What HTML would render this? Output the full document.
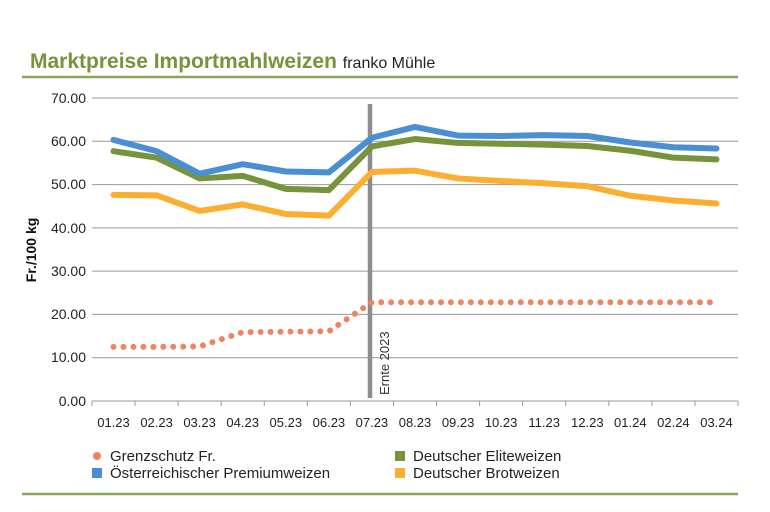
<!DOCTYPE html>
<html><head><meta charset="utf-8"><style>
body{margin:0;background:#fff;}
svg{display:block;font-family:"Liberation Sans",sans-serif;}
</style></head><body>
<svg id="s" width="770" height="512" viewBox="0 0 770 512">
<text x="30" y="68" font-size="21" font-weight="bold" fill="#77933c">Marktpreise Importmahlweizen <tspan font-size="16" font-weight="normal" fill="#222">franko Mühle</tspan></text>
<line x1="22" y1="77" x2="738" y2="77" stroke="#8aa65a" stroke-width="2.5"/>
<line x1="22" y1="494" x2="738" y2="494" stroke="#8aa65a" stroke-width="2.5"/>
<g stroke="#999" stroke-width="1">
<line x1="92" y1="98" x2="738" y2="98"/><line x1="92" y1="141.3" x2="738" y2="141.3"/>
<line x1="92" y1="184.6" x2="738" y2="184.6"/><line x1="92" y1="227.9" x2="738" y2="227.9"/>
<line x1="92" y1="271.1" x2="738" y2="271.1"/><line x1="92" y1="314.4" x2="738" y2="314.4"/>
<line x1="92" y1="357.7" x2="738" y2="357.7"/><line x1="92" y1="401" x2="738" y2="401"/>
</g>
<g id="ticks" stroke="#999"></g>
<g font-size="14" fill="#222" text-anchor="end">
<text x="86" y="103">70.00</text><text x="86" y="146">60.00</text><text x="86" y="189">50.00</text>
<text x="86" y="233">40.00</text><text x="86" y="276">30.00</text><text x="86" y="319">20.00</text>
<text x="86" y="362">10.00</text><text x="86" y="406">0.00</text>
</g>
<text transform="translate(36,250) rotate(-90)" font-size="14" font-weight="bold" text-anchor="middle" fill="#111">Fr./100 kg</text>
<g font-size="13" fill="#222" text-anchor="middle">
<text x="113.5" y="427">01.23</text><text x="156.6" y="427">02.23</text><text x="199.6" y="427">03.23</text>
<text x="242.7" y="427">04.23</text><text x="285.8" y="427">05.23</text><text x="328.9" y="427">06.23</text>
<text x="371.9" y="427">07.23</text><text x="415" y="427">08.23</text><text x="458.1" y="427">09.23</text>
<text x="501.1" y="427">10.23</text><text x="544.2" y="427">11.23</text><text x="587.3" y="427">12.23</text>
<text x="630.3" y="427">01.24</text><text x="673.4" y="427">02.24</text><text x="716.5" y="427">03.24</text>
</g>
<line x1="370" y1="104" x2="370" y2="398" stroke="#8c8c8c" stroke-width="4.5"/>
<text transform="translate(389,395) rotate(-90)" font-size="13" fill="#333">Ernte 2023</text>
<g id="series"></g>
<g font-size="15" fill="#222">
<circle cx="97" cy="456" r="4" fill="#f08462"/><text x="110" y="461">Grenzschutz Fr.</text>
<rect x="92" y="468" width="10" height="10" fill="#4a8fd3"/><text x="110" y="478">Österreichischer Premiumweizen</text>
<rect x="395" y="451" width="10" height="10" fill="#77933c"/><text x="413" y="461">Deutscher Eliteweizen</text>
<rect x="395" y="468" width="10" height="10" fill="#fbae2f"/><text x="413" y="478">Deutscher Brotweizen</text>
</g>
</svg>
<script>
var ns="http://www.w3.org/2000/svg";
function X(i){return 113.5+i*43.07;}
function Y(v){return 401-v*4.33;}
var t=document.getElementById("ticks");
for(var i=0;i<=15;i++){var l=document.createElementNS(ns,"line");var x=92+i*43.07;
l.setAttribute("x1",x);l.setAttribute("x2",x);l.setAttribute("y1",401);l.setAttribute("y2",406);t.appendChild(l);}
var S=document.getElementById("series");
function pl(d,c,w,dash){var p=document.createElementNS(ns,"polyline");
p.setAttribute("points",d.map(function(v,i){return X(i)+","+Y(v)}).join(" "));
p.setAttribute("fill","none");p.setAttribute("stroke",c);p.setAttribute("stroke-width",w);
p.setAttribute("stroke-linecap","round");p.setAttribute("stroke-linejoin","round");
if(dash)p.setAttribute("stroke-dasharray",dash);S.appendChild(p);}
pl([12.5,12.5,12.6,15.9,16,16.1,22.8,22.8,22.8,22.8,22.8,22.8,22.8,22.8,22.8],"#f08462",6,"0.01 9.95");
pl([47.6,47.5,43.9,45.4,43.2,42.8,52.9,53.2,51.4,50.8,50.3,49.6,47.4,46.3,45.6],"#fbae2f",6);
pl([57.7,56.2,51.4,52,49,48.7,58.8,60.5,59.6,59.4,59.2,58.9,57.8,56.2,55.8],"#77933c",6);
pl([60.3,57.7,52.5,54.7,53,52.8,60.8,63.3,61.3,61.2,61.4,61.2,59.7,58.6,58.3],"#4a8fd3",6);
</script>
</body></html>
